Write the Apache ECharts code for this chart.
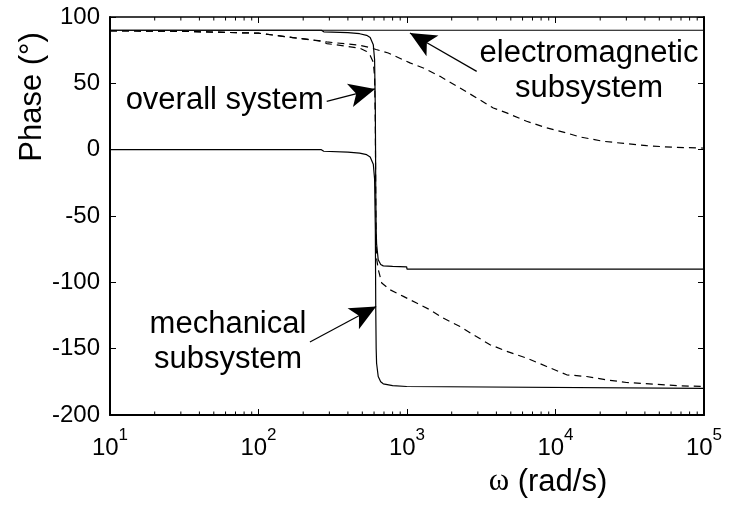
<!DOCTYPE html>
<html>
<head>
<meta charset="utf-8">
<script src="https://cdn.jsdelivr.net/npm/echarts@6/dist/echarts.min.js"></script>
<style>
  html, body { margin: 0; padding: 0; background: #ffffff; }
  #chart { width: 729px; height: 507px; }
</style>
</head>
<body>
<div id="chart"></div>
<script>
// Phase responses: frequency in rad/s, phase in degrees.
const freqEmSolid = [10, 100000];
const phaseEmSolid = [90, 90];

const freqRes = [10, 100, 265, 275, 400, 480, 535, 565, 593, 605, 612, 616, 620, 624, 640, 665, 692, 800, 995, 1000, 100000];
const phaseMechSolid = [0, 0, 0, -1.2, -1.8, -2.6, -3.8, -5.5, -11, -22, -60, -120, -150, -161, -171, -175, -176.5, -177.8, -178.5, -180, -180];
const phaseOverallSolid = [90, 90, 90, 88.8, 88.2, 87.4, 86.2, 84.5, 79, 68, 30, -30, -60, -71, -83, -86.5, -87.6, -88, -88.3, -90, -90];

const freqEmDash = [10, 30, 100, 170, 288, 482, 560, 620, 748, 1047, 1288, 1668, 2275, 2945, 3812, 4690, 6390, 8720, 11900, 14600, 21000, 30100, 41100, 62100, 100000];
const phaseEmDash = [89.6, 89.2, 87.8, 84.5, 81.2, 78.7, 77, 75.5, 72.9, 65.4, 61.6, 55.3, 46.5, 39, 31.4, 27.7, 21.4, 16.4, 12.6, 9.6, 6.3, 4.5, 3, 1.8, 1.2];

const freqOverallDash = [10, 30, 100, 170, 265, 288, 482, 535, 565, 593, 605, 612, 616, 620, 624, 641, 676, 769, 945, 1161, 1428, 1750, 2275, 2797, 3625, 4690, 6390, 8720, 11900, 16200, 22100, 30100, 45600, 68900, 100000];
const phaseOverallDash = [89.6, 89.2, 87.8, 84.5, 82, 80, 76.5, 74, 71, 66, 55, 20, -40, -70, -82, -90.5, -100.5, -105.6, -110.6, -115.6, -120.7, -126.9, -133.3, -139.5, -147, -152, -157.1, -163.4, -169.7, -171, -173.5, -175.5, -176.7, -178, -178.5];

// Axis ranges and tick set-up
const freqMin = 10, freqMax = 100000;
const phaseMin = -200, phaseMax = 100, phaseStep = 50;
const decadeStarts = [10, 100, 1000, 10000];
const minorMultipliers = [2, 3, 4, 5, 6, 7, 8, 9];

// Callout texts, their anchor points and arrows (frequency, phase)
const noteText = ['overall system', 'electromagnetic\nsubsystem', 'mechanical\nsubsystem'];
const noteAt = [[275, 36.8], [16810, 59.6], [62.3, -144.8]];
const noteAlign = ['right', 'center', 'center'];
const arrowFrom = [[288, 36.4], [2946, 59.0], [222, -145]];
const arrowTo = [[610, 45.8], [1047, 88.0], [620, -118.2]];

const SANS = 'Liberation Sans, Arial, Helvetica, sans-serif';
const SERIF = 'Liberation Serif, Times New Roman, serif';

const pairs = (f, p) => f.map((w, i) => [w, p[i]]);
const minorTicks = [];
decadeStarts.forEach(d => minorMultipliers.forEach(k => minorTicks.push(k * d)));

const curveStyle = (dashed) => ({
  color: '#000',
  width: 1.2,
  type: dashed ? [7, 5] : 'solid'
});

const curve = (name, data, dashed) => ({
  name: name,
  type: 'line',
  data: data,
  showSymbol: false,
  symbol: 'none',
  silent: true,
  lineStyle: curveStyle(dashed),
  z: 3
});

const frameLine = (w) => ({ show: true, onZero: false, lineStyle: { color: '#000', width: w } });
const frameTick = { show: true, inside: true, length: 6, lineStyle: { color: '#000', width: 1 } };

const chart = echarts.init(document.getElementById('chart'), null, { renderer: 'canvas' });

const option = {
  animation: false,
  backgroundColor: '#ffffff',
  grid: { left: 110, right: 25, top: 17, bottom: 92, containLabel: false },
  xAxis: [
    {
      type: 'log', logBase: 10, min: freqMin, max: freqMax, position: 'bottom',
      axisLine: frameLine(2),
      axisTick: frameTick,
      splitLine: { show: false },
      axisLabel: {
        margin: 12,
        formatter: v => '{b|10}{s|' + Math.round(Math.log10(v)) + '}',
        rich: {
          b: { fontSize: 24, fontFamily: SANS, color: '#000' },
          s: { fontSize: 17, fontFamily: SANS, color: '#000', padding: [0, 0, 26, 0] }
        }
      }
    },
    {
      type: 'log', logBase: 10, min: freqMin, max: freqMax, position: 'top',
      axisLine: frameLine(1.5),
      axisTick: frameTick,
      splitLine: { show: false },
      axisLabel: { show: false }
    }
  ],
  yAxis: [
    {
      type: 'value', min: phaseMin, max: phaseMax, interval: phaseStep, position: 'left',
      axisLine: frameLine(2),
      axisTick: frameTick,
      splitLine: { show: false },
      axisLabel: { margin: 10, fontSize: 24, fontFamily: SANS, color: '#000' }
    },
    {
      type: 'value', min: phaseMin, max: phaseMax, interval: phaseStep, position: 'right',
      axisLine: frameLine(2),
      axisTick: frameTick,
      splitLine: { show: false },
      axisLabel: { show: false }
    }
  ],
  series: [
    curve('electromagnetic (solid)', pairs(freqEmSolid, phaseEmSolid), false),
    curve('overall (solid)', pairs(freqRes, phaseOverallSolid), false),
    curve('mechanical (solid)', pairs(freqRes, phaseMechSolid), false),
    curve('electromagnetic (dashed)', pairs(freqEmDash, phaseEmDash), true),
    curve('overall (dashed)', pairs(freqOverallDash, phaseOverallDash), true),
    {
      name: 'minor ticks',
      type: 'custom',
      silent: true,
      data: minorTicks.map(v => [v]),
      renderItem: (params, api) => {
        const b = api.coord([api.value(0), phaseMin]);
        const t = api.coord([api.value(0), phaseMax]);
        const st = { stroke: '#000', lineWidth: 1 };
        return {
          type: 'group',
          children: [
            { type: 'line', shape: { x1: b[0], y1: b[1], x2: b[0], y2: b[1] - 3.5 }, style: st },
            { type: 'line', shape: { x1: t[0], y1: t[1], x2: t[0], y2: t[1] + 3.5 }, style: st }
          ]
        };
      },
      z: 4
    },
    {
      name: 'callouts',
      type: 'scatter',
      silent: true,
      symbolSize: 0,
      itemStyle: { opacity: 1 },
      data: noteText.map((txt, i) => ({
        value: noteAt[i],
        name: txt,
        label: { align: noteAlign[i] }
      })),
      label: {
        show: true,
        position: 'inside',
        formatter: p => p.name,
        fontSize: 31,
        lineHeight: 35,
        fontFamily: SANS,
        color: '#000',
        opacity: 1,
        textBorderWidth: 0,
        verticalAlign: 'middle'
      },
      markLine: {
        silent: true,
        animation: false,
        symbol: ['none', 'arrow'],
        symbolSize: [18, 26],
        label: { show: false },
        lineStyle: { color: '#000', width: 1.2, type: 'solid', opacity: 1 },
        emphasis: { disabled: true },
        data: arrowFrom.map((a, i) => [{ coord: a }, { coord: arrowTo[i] }])
      },
      z: 5
    }
  ],
  graphic: [
    {
      type: 'text',
      x: 32, y: 97,
      rotation: Math.PI / 2,
      style: {
        text: 'Phase (°)',
        font: '31px ' + SANS,
        fill: '#000',
        align: 'center',
        verticalAlign: 'middle'
      }
    },
    {
      type: 'text',
      x: 548, y: 482,
      style: {
        text: '{w|ω}{t| (rad/s)}',
        align: 'center',
        verticalAlign: 'middle',
        rich: {
          w: { fontSize: 31, fontFamily: SERIF, fill: '#000', color: '#000' },
          t: { fontSize: 31, fontFamily: SANS, fill: '#000', color: '#000' }
        }
      }
    }
  ]
};

chart.setOption(option);
</script>
</body>
</html>
